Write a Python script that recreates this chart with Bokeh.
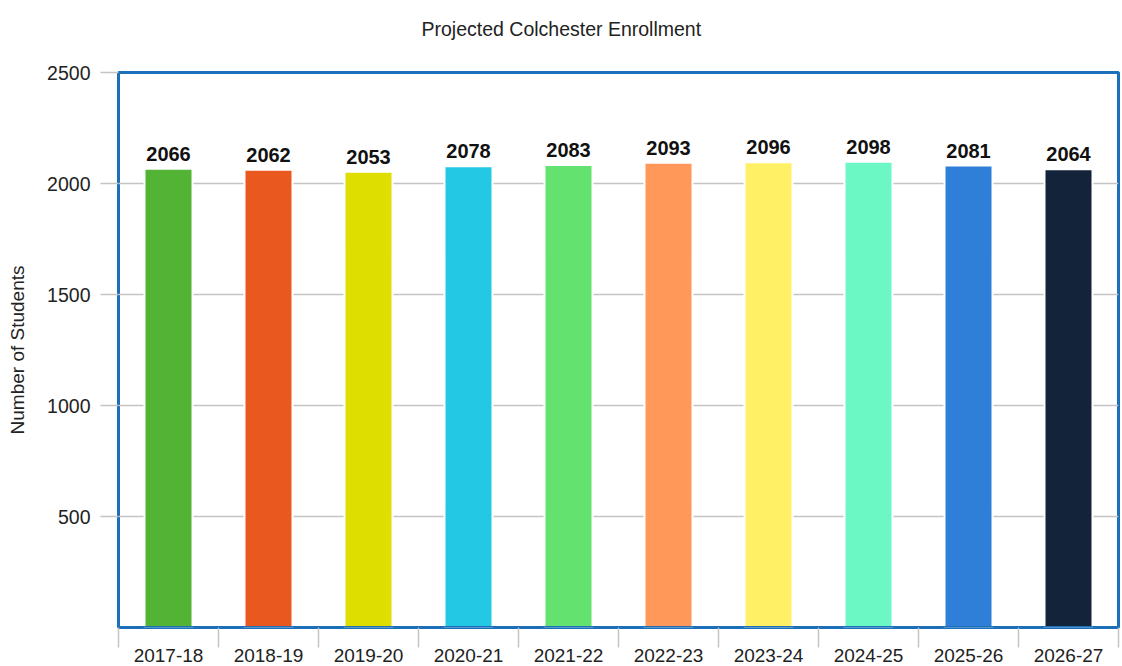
from bokeh.plotting import figure
from bokeh.models import ColumnDataSource, FixedTicker, Span, Title
from bokeh.core.properties import value
from bokeh.embed import file_html
from bokeh.resources import INLINE

years = ["2017-18", "2018-19", "2019-20", "2020-21", "2021-22",
         "2022-23", "2023-24", "2024-25", "2025-26", "2026-27"]
students = [2066, 2062, 2053, 2078, 2083, 2093, 2096, 2098, 2081, 2064]
colors = ["#53b335", "#e9581f", "#dede00", "#22c8e4", "#63e26f",
          "#ff9859", "#fff066", "#6cf8c4", "#2f7fd8", "#12233a"]
y_ticks = [500, 1000, 1500, 2000, 2500]
title_text = "Projected Colchester Enrollment"

FONT = "Liberation Sans"
BLUE = "#1c6fb9"
GRID = "#c4c4c4"

pos = [i + 0.5 for i in range(len(years))]
src = ColumnDataSource(dict(x=pos, top=students, color=colors,
                            label=[str(v) for v in students]))

p = figure(width=1122, height=666, output_backend="svg", toolbar_location=None,
           title=None,
           x_range=(0, len(years)), y_range=(0, 2500),
           min_border_left=118, min_border_right=4, min_border_top=72,
           min_border_bottom=39)

# spacer next to the frame, then the real title further out
p.add_layout(Title(text=" ", text_font_size="1px", standoff=25), "above")
p.add_layout(Title(text=title_text, align="left", offset=303, text_font=FONT,
                   text_font_size="19.5px", text_font_style="normal",
                   text_color="#222222", standoff=10), "above")

p.vbar(x="x", top="top", width=0.48, bottom=0, color="color",
       line_color="white", line_width=2, source=src)
p.text(x="x", y="top", text="label", source=src, text_align="center",
       text_baseline="bottom", y_offset=-8, text_font=value(FONT),
       text_font_size="20px", text_font_style="bold", text_color="#111111")

p.add_layout(Span(location=0, dimension="width", line_color=BLUE, line_width=3))

p.outline_line_color = BLUE
p.outline_line_width = 3
p.outline_line_alpha = 1

p.xgrid.grid_line_color = None
p.ygrid.grid_line_color = GRID
p.ygrid.grid_line_width = 1.5
p.ygrid.ticker = FixedTicker(ticks=y_ticks)

p.yaxis.ticker = FixedTicker(ticks=y_ticks)
p.yaxis.axis_line_color = None
p.yaxis.major_tick_line_color = GRID
p.yaxis.major_tick_line_width = 1.5
p.yaxis.major_tick_out = 18
p.yaxis.major_tick_in = 0
p.yaxis.minor_tick_line_color = None
p.yaxis.major_label_text_font = FONT
p.yaxis.major_label_text_font_size = "19.5px"
p.yaxis.major_label_text_color = "#222222"
p.yaxis.major_label_standoff = 10
p.yaxis.axis_label = "Number of Students"
p.yaxis.axis_label_text_font = FONT
p.yaxis.axis_label_text_font_size = "19px"
p.yaxis.axis_label_text_font_style = "normal"
p.yaxis.axis_label_text_color = "#222222"
p.yaxis.axis_label_standoff = 16

p.xaxis.ticker = FixedTicker(ticks=pos, minor_ticks=list(range(len(years) + 1)))
p.xaxis.major_label_overrides = {pos[i]: years[i] for i in range(len(years))}
p.xaxis.axis_line_color = None
p.xaxis.major_tick_line_color = None
p.xaxis.major_tick_out = 0
p.xaxis.major_tick_in = 0
p.xaxis.minor_tick_line_color = GRID
p.xaxis.minor_tick_line_width = 1.5
p.xaxis.minor_tick_out = 20
p.xaxis.minor_tick_in = 0
p.xaxis.major_label_text_font = FONT
p.xaxis.major_label_text_font_size = "19px"
p.xaxis.major_label_text_color = "#222222"
p.xaxis.major_label_standoff = 1

open("out.html", "w").write(file_html(p, INLINE))
